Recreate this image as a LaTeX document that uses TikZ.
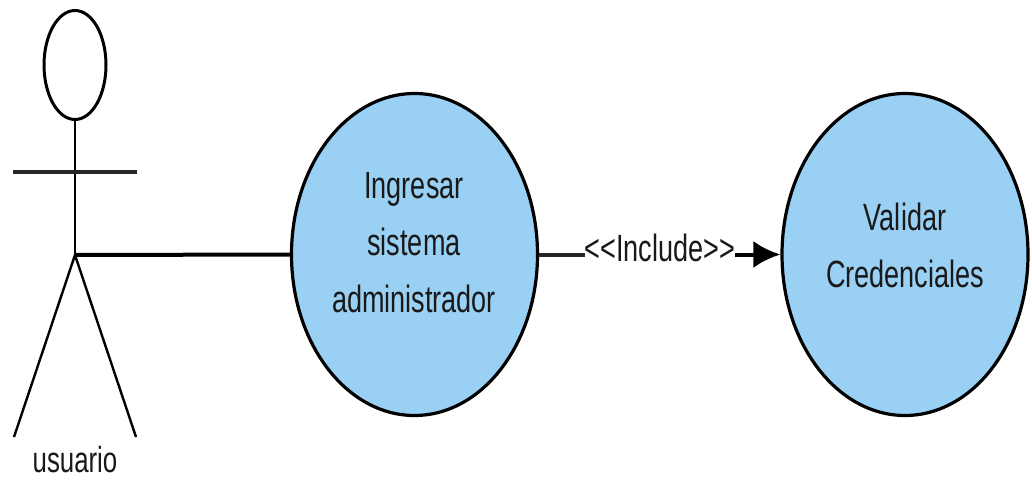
\documentclass[tikz,border=0pt]{standalone}
\usepackage{fontspec}
\setmainfont{Liberation Sans}
\usetikzlibrary{arrows.meta,shapes.geometric}
\definecolor{ucfill}{RGB}{153,208,243}
\tikzset{
  usecase/.style={draw=black,line width=3.2pt,fill=ucfill,ellipse,inner sep=0pt},
  actorline/.style={draw=black,line width=2.4pt},
  lbl/.style={font=\fontsize{33}{49.5}\selectfont,align=center,inner sep=0pt,xscale=.82,yscale=1.15,text=black!90},
}
\begin{document}
\begin{tikzpicture}[x=1pt,y=-1pt]
\useasboundingbox (0,0) rectangle (1032,481);
\node[draw=black,line width=3pt,ellipse,minimum width=62pt,minimum height=109pt,inner sep=0pt] (head) at (75,65) {};
\coordinate (hip) at (75,255);
\coordinate (armL) at (13,172);
\coordinate (armR) at (137,172);
\coordinate (footL) at (14,437);
\coordinate (footR) at (136,437);
\draw[actorline] (head.south) -- (hip);
\draw[draw=black!85,line width=4pt] (armL) -- (armR);
\draw[actorline] (footL) -- (hip) -- (footR);
\node[usecase,minimum width=246pt,minimum height=322pt] (uc1) at (414.5,254.5) {};
\node[usecase,minimum width=246pt,minimum height=322pt] (uc2) at (905,254.5) {};
\node[lbl] (t1) at (414,243) {Ingresar\\sistema\\administrador};
\node[lbl] (t2) at (905,245) {Validar\\Credenciales};
\node[lbl,font=\fontsize{31.5}{34}\selectfont] (actor) at (75,460) {usuario};
\node[lbl] (inc) at (660,248) {{<}{<}Include{>}{>}};
\draw[line width=4pt] (hip) -- (uc1.west);
\draw[line width=4pt,draw=black!85] (uc1.east) -- (uc1.east -| inc.west);
\draw[line width=4pt,-{Latex[length=27pt,width=27pt]}] (uc1.east -| inc.east) -- (uc2.west);
\end{tikzpicture}
\end{document}
